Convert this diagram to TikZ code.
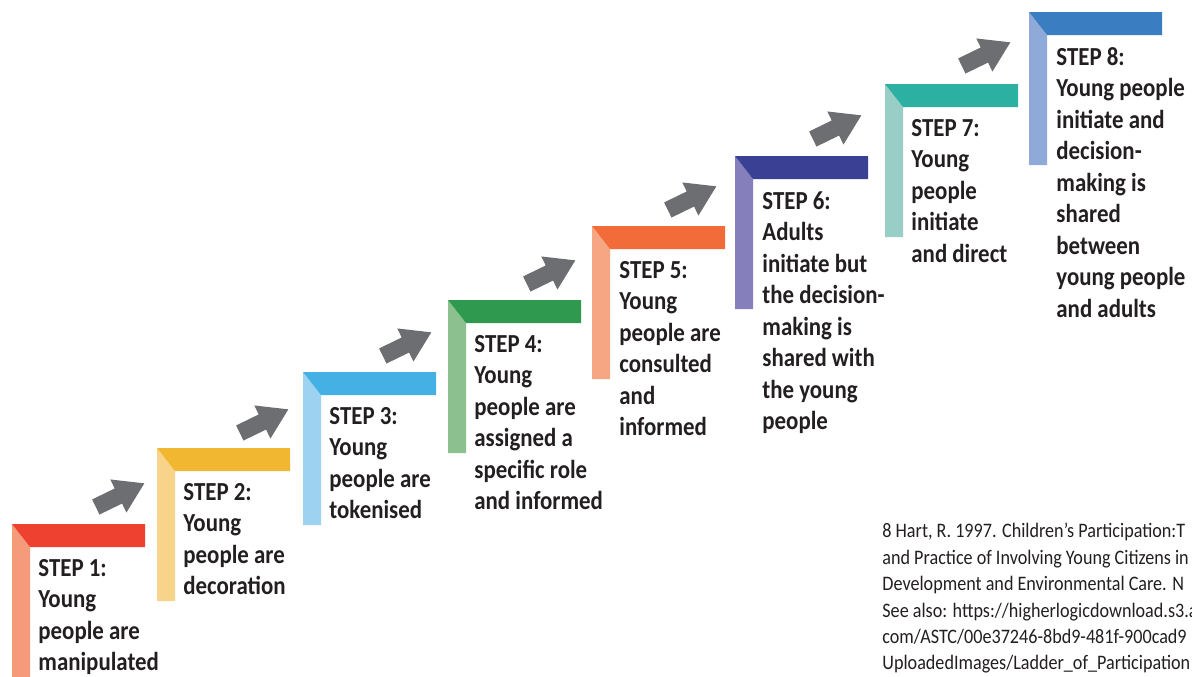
\documentclass[tikz,border=0pt]{standalone}
\usepackage{fontspec}
\setmainfont{Carlito}[FakeStretch=0.88]
\usetikzlibrary{shapes.arrows}
\begin{document}
\begin{tikzpicture}[x=0.5pt,y=-0.5pt]
\newcommand{\barlen}{133}
\newcommand{\barthick}{23}
\newcommand{\barwidth}{18}
\newcommand{\riserlen}{130}
\definecolor{ink}{RGB}{35,31,32}
\definecolor{arrowgrey}{RGB}{109,110,113}
\definecolor{s1top}{RGB}{239,65,48}
\definecolor{s1side}{RGB}{245,154,122}
\definecolor{s2top}{RGB}{242,183,49}
\definecolor{s2side}{RGB}{248,211,138}
\definecolor{s3top}{RGB}{68,176,228}
\definecolor{s3side}{RGB}{157,210,240}
\definecolor{s4top}{RGB}{47,154,79}
\definecolor{s4side}{RGB}{140,192,143}
\definecolor{s5top}{RGB}{242,108,58}
\definecolor{s5side}{RGB}{246,166,131}
\definecolor{s6top}{RGB}{58,65,149}
\definecolor{s6side}{RGB}{133,128,188}
\definecolor{s7top}{RGB}{43,176,162}
\definecolor{s7side}{RGB}{152,206,198}
\definecolor{s8top}{RGB}{58,125,192}
\definecolor{s8side}{RGB}{143,170,217}
\tikzstyle{steptext}=[anchor=north west,align=left,inner sep=0pt,text=ink,font=\fontsize{13}{15.75}\selectfont\bfseries]
\tikzstyle{climb}=[single arrow,fill=arrowgrey,rotate=26,anchor=tip,minimum height=27pt,inner xsep=0pt,inner ysep=4pt,single arrow head extend=5pt,single arrow tip angle=65]
\tikzstyle{citation}=[anchor=north west,align=left,inner sep=0pt,text=ink,font=\fontsize{10.3}{13.2}\selectfont]
\useasboundingbox (0,0) rectangle (1192,676);
% risers
\fill[s1side] (12,524) -- ++(\barwidth,\barthick) -- ++(0,\riserlen) -- ++(-\barwidth,0) -- cycle;
\fill[s2side] (157,448) -- ++(\barwidth,\barthick) -- ++(0,\riserlen) -- ++(-\barwidth,0) -- cycle;
\fill[s3side] (303,372) -- ++(\barwidth,\barthick) -- ++(0,\riserlen) -- ++(-\barwidth,0) -- cycle;
\fill[s4side] (448,300) -- ++(\barwidth,\barthick) -- ++(0,\riserlen) -- ++(-\barwidth,0) -- cycle;
\fill[s5side] (592,226) -- ++(\barwidth,\barthick) -- ++(0,\riserlen) -- ++(-\barwidth,0) -- cycle;
\fill[s6side] (735,156) -- ++(\barwidth,\barthick) -- ++(0,\riserlen) -- ++(-\barwidth,0) -- cycle;
\fill[s7side] (885,84) -- ++(\barwidth,\barthick) -- ++(0,\riserlen) -- ++(-\barwidth,0) -- cycle;
\fill[s8side] (1029,12) -- ++(\barwidth,\barthick) -- ++(0,\riserlen) -- ++(-\barwidth,0) -- cycle;
% treads
\fill[s1top] (12,524) -- ++(\barlen,0) -- ++(0,\barthick) -- ++(\barwidth-\barlen,0) -- cycle;
\fill[s2top] (157,448) -- ++(\barlen,0) -- ++(0,\barthick) -- ++(\barwidth-\barlen,0) -- cycle;
\fill[s3top] (303,372) -- ++(\barlen,0) -- ++(0,\barthick) -- ++(\barwidth-\barlen,0) -- cycle;
\fill[s4top] (448,300) -- ++(\barlen,0) -- ++(0,\barthick) -- ++(\barwidth-\barlen,0) -- cycle;
\fill[s5top] (592,226) -- ++(\barlen,0) -- ++(0,\barthick) -- ++(\barwidth-\barlen,0) -- cycle;
\fill[s6top] (735,156) -- ++(\barlen,0) -- ++(0,\barthick) -- ++(\barwidth-\barlen,0) -- cycle;
\fill[s7top] (885,84) -- ++(\barlen,0) -- ++(0,\barthick) -- ++(\barwidth-\barlen,0) -- cycle;
\fill[s8top] (1029,12) -- ++(\barlen,0) -- ++(0,\barthick) -- ++(\barwidth-\barlen,0) -- cycle;
% labels
\node[steptext] (t1) at (38,559) {STEP 1:\\Young\\people are\\manipulated};
\node[steptext] (t2) at (183,483) {STEP 2:\\Young\\people are\\decoration};
\node[steptext] (t3) at (329,407) {STEP 3:\\Young\\people are\\tokenised};
\node[steptext] (t4) at (474,335) {STEP 4:\\Young\\people are\\assigned a\\specific role\\and informed};
\node[steptext] (t5) at (619,261) {STEP 5:\\Young\\people are\\consulted\\and\\informed};
\node[steptext] (t6) at (762,191) {STEP 6:\\Adults\\initiate but\\the decision-\\making is\\shared with\\the young\\people};
\node[steptext] (t7) at (911,119) {STEP 7:\\Young\\people\\initiate\\and direct};
\node[steptext] (t8) at (1056,47) {STEP 8:\\Young people\\initiate and\\decision-\\making is\\shared\\between\\young people\\and adults};
% arrows
\node[climb] (a1) at (145,483) {};
\node[climb] (a2) at (289,409) {};
\node[climb] (a3) at (432,332) {};
\node[climb] (a4) at (576,260) {};
\node[climb] (a5) at (717,186) {};
\node[climb] (a6) at (862,115) {};
\node[climb] (a7) at (1011,42) {};
% reference
\begin{scope}
\clip (0,0) rectangle (1192,676);
\node[citation] (cite) at (882,523) {8 Hart, R. 1997. Children’s Participation:T\\and Practice of Involving Young Citizens in\\Development and Environmental Care. N\\See also: https://higherlogicdownload.s3.am\\com/ASTC/00e37246-8bd9-481f-900cad9\\UploadedImages/Ladder\_of\_Participation};
\end{scope}
\end{tikzpicture}
\end{document}
